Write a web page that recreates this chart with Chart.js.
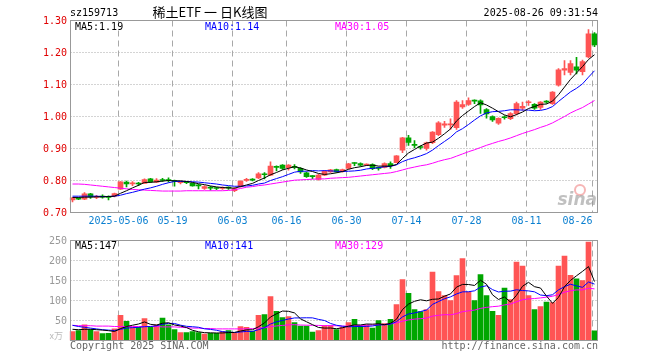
<!DOCTYPE html>
<html>
<head>
<meta charset="utf-8">
<script src="https://cdn.jsdelivr.net/npm/chart.js@4.4.0/dist/chart.umd.min.js"></script>
<style>
    html, body { margin: 0; padding: 0; background: #fff; }
    #wrap { position: relative; width: 660px; height: 360px; overflow: hidden; }
    canvas { position: absolute; left: 0; }
    #kline  { top: 0; }
    #volume { top: 230px; }
</style>
</head>
<body>
<div id="wrap">
    <canvas id="kline" width="660" height="230"></canvas>
    <canvas id="volume" width="660" height="130"></canvas>
</div>
<script>
// --- Data ---

const dates = [
    "04-21","04-22","04-23","04-24","04-25","04-28","04-29","04-30",
    "05-06","05-07","05-08","05-09","05-12","05-13","05-14","05-15","05-16",
    "05-19","05-20","05-21","05-22","05-23","05-26","05-27","05-28","05-29","05-30",
    "06-03","06-04","06-05","06-06","06-09","06-10","06-11","06-12","06-13","06-16",
    "06-17","06-18","06-19","06-20","06-23","06-24","06-25","06-26","06-27","06-30",
    "07-01","07-02","07-03","07-04","07-07","07-08","07-09","07-10","07-11","07-14",
    "07-15","07-16","07-17","07-18","07-21","07-22","07-23","07-24","07-25","07-28",
    "07-29","07-30","07-31","08-01","08-04","08-05","08-06","08-07","08-08","08-11",
    "08-12","08-13","08-14","08-15","08-18","08-19","08-20","08-21","08-22","08-25","08-26"
];

const open = [
    0.739,0.745,0.742,0.758,0.747,0.750,0.749,0.751,
    0.773,0.795,0.789,0.792,0.791,0.805,0.795,0.802,0.802,
    0.800,0.793,0.795,0.791,0.785,0.775,0.778,0.776,0.775,0.778,
    0.768,0.781,0.800,0.803,0.808,0.820,0.817,0.843,0.848,0.840,
    0.843,0.838,0.824,0.813,0.803,0.817,0.827,0.834,0.828,0.838,
    0.855,0.853,0.848,0.850,0.840,0.841,0.853,0.856,0.895,0.933,
    0.912,0.905,0.900,0.918,0.943,0.973,0.974,0.965,1.030,1.038,
    1.050,1.049,1.022,1.000,0.979,0.998,0.993,1.009,1.026,1.043,
    1.038,1.028,1.047,1.040,1.098,1.145,1.138,1.155,1.140,1.186,1.258
];

const high = [
    0.747,0.747,0.762,0.760,0.754,0.755,0.752,0.761,
    0.797,0.798,0.797,0.794,0.805,0.807,0.806,0.807,0.808,
    0.801,0.798,0.797,0.792,0.788,0.784,0.782,0.779,0.780,0.780,
    0.778,0.799,0.807,0.806,0.825,0.825,0.858,0.846,0.850,0.850,
    0.850,0.840,0.826,0.815,0.819,0.831,0.835,0.836,0.836,0.854,
    0.856,0.855,0.852,0.852,0.842,0.855,0.858,0.878,0.935,0.941,
    0.925,0.908,0.920,0.953,0.984,0.985,0.993,1.050,1.050,1.058,
    1.052,1.052,1.025,1.002,0.996,1.002,1.012,1.045,1.045,1.050,
    1.040,1.047,1.050,1.078,1.150,1.175,1.175,1.185,1.176,1.272,1.262
];

const low = [
    0.733,0.740,0.740,0.744,0.743,0.745,0.739,0.749,
    0.772,0.780,0.784,0.784,0.790,0.794,0.793,0.797,0.795,
    0.782,0.789,0.790,0.782,0.774,0.772,0.770,0.771,0.772,0.772,
    0.765,0.779,0.797,0.799,0.806,0.805,0.815,0.830,0.835,0.832,
    0.836,0.822,0.810,0.806,0.801,0.815,0.825,0.825,0.826,0.836,
    0.846,0.845,0.846,0.834,0.832,0.839,0.838,0.855,0.887,0.910,
    0.902,0.898,0.895,0.915,0.940,0.966,0.960,0.960,1.025,1.035,
    1.040,1.010,0.995,0.985,0.975,0.992,0.990,1.005,1.020,1.035,
    1.022,1.022,1.041,1.038,1.095,1.130,1.130,1.133,1.130,1.183,1.218
];

const close = [
    0.746,0.742,0.758,0.749,0.750,0.748,0.747,0.759,
    0.796,0.789,0.793,0.789,0.803,0.796,0.801,0.800,0.800,
    0.797,0.795,0.793,0.783,0.783,0.781,0.776,0.775,0.777,0.776,
    0.775,0.798,0.804,0.801,0.821,0.818,0.845,0.841,0.838,0.848,
    0.841,0.827,0.812,0.812,0.817,0.829,0.833,0.827,0.834,0.852,
    0.853,0.848,0.850,0.837,0.838,0.853,0.846,0.877,0.933,0.919,
    0.910,0.903,0.918,0.951,0.980,0.977,0.977,1.045,1.037,1.050,
    1.048,1.036,1.008,0.989,0.994,0.996,1.009,1.040,1.032,1.046,
    1.026,1.045,1.045,1.076,1.146,1.150,1.165,1.145,1.172,1.258,1.224
];

const ma5 = [
    0.747,0.747,0.748,0.748,0.749,0.749,0.750,0.751,
    0.760,0.768,0.777,0.785,0.794,0.794,0.796,0.798,0.800,
    0.799,0.799,0.797,0.794,0.790,0.787,0.783,0.780,0.778,0.777,
    0.776,0.781,0.786,0.791,0.800,0.808,0.818,0.825,0.833,0.838,
    0.843,0.839,0.833,0.828,0.822,0.819,0.821,0.824,0.828,0.835,
    0.840,0.843,0.847,0.848,0.845,0.845,0.845,0.850,0.869,0.886,
    0.897,0.908,0.917,0.920,0.932,0.946,0.961,0.986,1.003,1.017,
    1.031,1.043,1.036,1.026,1.015,1.005,0.999,1.006,1.014,1.025,
    1.031,1.038,1.039,1.048,1.068,1.092,1.116,1.136,1.156,1.178,1.193
];

const ma10 = [
    0.751,0.751,0.751,0.751,0.751,0.750,0.750,0.751,
    0.754,0.759,0.763,0.768,0.773,0.777,0.782,0.788,0.793,
    0.797,0.797,0.797,0.796,0.795,0.793,0.791,0.789,0.786,0.784,
    0.782,0.782,0.783,0.785,0.789,0.792,0.800,0.806,0.812,0.819,
    0.826,0.829,0.829,0.831,0.830,0.831,0.830,0.829,0.828,0.829,
    0.830,0.832,0.836,0.838,0.840,0.843,0.844,0.849,0.859,0.866,
    0.871,0.877,0.884,0.895,0.909,0.922,0.935,0.952,0.962,0.975,
    0.989,1.002,1.011,1.015,1.016,1.018,1.021,1.021,1.020,1.020,
    1.018,1.019,1.023,1.031,1.047,1.062,1.077,1.088,1.102,1.123,1.143
];

const ma30 = [
    0.789,0.789,0.788,0.786,0.784,0.782,0.780,0.778,
    0.776,0.774,0.772,0.771,0.770,0.769,0.768,0.767,0.767,
    0.767,0.767,0.768,0.768,0.768,0.768,0.768,0.768,0.768,0.769,
    0.771,0.775,0.779,0.781,0.784,0.786,0.789,0.792,0.795,0.798,
    0.801,0.802,0.803,0.804,0.805,0.805,0.807,0.808,0.809,0.810,
    0.812,0.814,0.816,0.818,0.820,0.822,0.824,0.828,0.833,0.838,
    0.842,0.846,0.849,0.854,0.860,0.865,0.869,0.876,0.883,0.890,
    0.896,0.903,0.910,0.916,0.922,0.927,0.933,0.940,0.947,0.953,
    0.959,0.966,0.972,0.980,0.990,1.000,1.011,1.020,1.028,1.039,1.050
];

const volume = [
    22,25,39,27,22,17,18,29,
    63,48,33,33,55,33,39,56,39,
    27,20,20,22,20,16,18,18,22,25,
    18,35,33,23,63,65,110,73,57,60,
    45,36,36,21,25,37,37,27,33,45,
    53,36,39,31,50,42,53,90,152,118,
    77,72,77,171,122,112,100,162,205,121,
    100,165,112,73,63,131,102,196,186,112,
    77,85,96,95,186,211,163,154,150,246,24
];

const volMa5 = [
    28,27,28,28,27,26,24.6,22.6,
    29.8,35,38.2,41.2,46.4,40.4,38.6,43.2,44.4,
    38.8,36.2,32.4,25.6,21.8,19.6,19.2,18.8,18.8,19.8,
    20.2,23.6,26.6,26.8,34.4,43.8,58.8,66.8,73.6,73,
    69,54.2,46.8,39.6,32.6,31,31.2,29.4,31.8,35.8,
    39,38.8,41.2,40.8,41.8,39.6,43,53.2,77.4,91,
    98,101.8,99.2,103,103.8,110.8,116.4,133.4,140.2,140,
    137.6,150.6,140.6,114.2,102.6,108.8,96.2,113,135.6,145.4,
    134.6,131.2,111.2,93,107.8,134.6,150.2,161.8,172.8,184.8,147.4
];

const volMa10 = [
    38,35,33,31,29,27,26,25,
    28,31,32.1,32.9,34.5,35.1,36.8,40.7,42.8,
    42.6,38.3,35.5,34.4,33.1,29.2,27.7,25.6,22.2,20.8,
    19.9,21.4,22.7,22.8,27.1,32,41.2,46.7,50.2,53.7,
    56.4,56.5,56.8,56.6,52.8,50,42.7,38.1,35.7,34.2,
    35,35,35.3,36.3,38.8,39.3,40.9,47.2,59.1,66.4,
    68.8,72.4,76.2,90.2,97.4,104.4,109.1,116.3,121.6,121.9,
    124.2,133.5,137,127.2,121.3,123.2,123.4,126.8,124.9,124,
    121.7,113.7,112.1,114.3,126.6,134.6,140.7,136.5,132.9,146.3,141
];

const volMa30 = [
    38,37,37,37,36,36,36,35,
    35,35,35,35,35,35,35,34,34,
    34,33,32,31,31,30,30,29,29,29,
    29,29,29,29.8,31,31.9,34.7,36.4,37.7,39.1,
    39.6,38.7,38.3,37.9,37.7,37.1,37.2,36.8,36,36.2,
    37.1,37.6,38.3,38.6,39.6,40.4,41.6,44,48.3,51.4,
    53.4,54.6,56.1,61,63,64.6,64.2,67.2,72.1,74.2,
    76,80.3,82.8,84.6,85.8,89,91.1,96.8,101.9,104.1,
    104.9,106.5,108.4,110.6,115.1,120.7,124.4,126.5,126.5,130.7,129
];

// Axis ticks
const dateTicks    = ["05-06","05-19","06-03","06-16","06-30","07-14","07-28","08-11","08-26"];
const dateTickText = ["2025-05-06","05-19","06-03","06-16","06-30","07-14","07-28","08-11","08-26"];
const priceTicks   = [1.30, 1.20, 1.10, 1.00, 0.90, 0.80, 0.70];
const volTicks     = [250, 200, 150, 100, 50];

// --- Style ---

const UP    = "#ff5454";
const DOWN  = "#00a600";
const MONO  = "10px 'DejaVu Sans Mono', 'Liberation Mono', monospace";
const candleColor = close.map((c, i) => c >= open[i] ? UP : DOWN);

// --- Shared drawing helpers ---

function gridX(chart, d) {
    return Math.floor(chart.scales.x.getPixelForValue(dates.indexOf(d))) - 2 + 0.5;
}

function drawGrid(chart, yTicks) {
    const { ctx, chartArea: a, scales } = chart;
    ctx.save();
    ctx.lineWidth   = 1;
    ctx.strokeStyle = "#a8a8a8";
    ctx.setLineDash([1, 2]);
    yTicks.forEach(v => {
        const y = Math.floor(scales.y.getPixelForValue(v)) + 0.5;
        if (y <= a.top + 1 || y >= a.bottom - 1) return;
        ctx.beginPath();
        ctx.moveTo(a.left + 1, y);
        ctx.lineTo(a.right, y);
        ctx.stroke();
    });
    ctx.setLineDash([6, 4]);
    dateTicks.forEach(d => {
        const x = gridX(chart, d);
        ctx.beginPath();
        ctx.moveTo(x, a.top);
        ctx.lineTo(x, a.bottom);
        ctx.stroke();
    });
    ctx.restore();
}

function drawFrame(chart) {
    const { ctx, chartArea: a } = chart;
    ctx.save();
    ctx.strokeStyle = "#999";
    ctx.lineWidth   = 1;
    ctx.strokeRect(a.left + 1, a.top, a.right - a.left - 1, a.bottom - a.top);
    ctx.restore();
}

function text(ctx, str, x, y, color, align, font) {
    ctx.font         = font || MONO;
    ctx.fillStyle    = color;
    ctx.textAlign    = align || "left";
    ctx.textBaseline = "middle";
    ctx.fillText(str, x, y);
}

function lineSet(data, color) {
    return { type: "line", data, borderColor: color, borderWidth: 1, pointRadius: 0, tension: 0, order: 0 };
}

// --- K-line chart ---

const klinePlugin = {
    id: "klineDecor",
    beforeDatasetsDraw(chart) {
        drawGrid(chart, priceTicks);
        const ctx = chart.ctx;
        ctx.save();
        // sina watermark
        ctx.strokeStyle = "rgba(235,90,90,0.45)";
        ctx.lineWidth = 2;
        ctx.beginPath();
        ctx.arc(580, 190, 5, 0, Math.PI * 2);
        ctx.stroke();
        text(ctx, "sina", 597, 201, "rgba(150,150,150,0.6)", "right", "italic bold 17px 'DejaVu Sans'");
        ctx.restore();
    },
    afterDraw(chart) {
        const { ctx, scales } = chart;
        drawFrame(chart);
        ctx.save();
        priceTicks.forEach(v => {
            text(ctx, v.toFixed(2), 67, scales.y.getPixelForValue(v) + 0.5, "#e00000", "right");
        });
        dateTicks.forEach((d, k) => {
            const last = k === dateTicks.length - 1;
            text(ctx, dateTickText[k], gridX(chart, d), 221, "#0a7fd0", last ? "right" : "center");
        });
        text(ctx, "sz159713", 70, 13, "#000");
        text(ctx, "稀土ETF 一 日K线图", 210, 12, "#000", "center", "13px 'Noto Sans CJK SC'");
        text(ctx, "2025-08-26 09:31:54", 598, 13, "#000", "right");
        text(ctx, "MA5:"  + ma5[ma5.length - 1].toFixed(2),   75,  27, "#000");
        text(ctx, "MA10:" + ma10[ma10.length - 1].toFixed(2), 205, 27, "#0000ff");
        text(ctx, "MA30:" + ma30[ma30.length - 1].toFixed(2), 335, 27, "#ff00ff");
        ctx.restore();
    }
};

new Chart(document.getElementById("kline"), {
    type: "bar",
    data: {
        labels: dates,
        datasets: [
            lineSet(ma5, "#000"),
            lineSet(ma10, "#0000ff"),
            lineSet(ma30, "#ff00ff"),
            {
                type: "bar", data: open.map((o, i) => [o, close[i]]),
                backgroundColor: candleColor, barThickness: 5, grouped: false, minBarLength: 1, order: 1
            },
            {
                type: "bar", data: low.map((l, i) => [l, high[i]]),
                backgroundColor: candleColor, barThickness: 1, grouped: false, order: 2
            }
        ]
    },
    options: {
        responsive: false,
        animation: false,
        devicePixelRatio: 1,
        layout: { padding: { left: 69.5, right: 62.5, top: 20.5, bottom: 17.5 } },
        plugins: { legend: { display: false }, tooltip: { enabled: false } },
        scales: {
            x: { display: false, offset: true },
            y: { display: false, min: 0.70, max: 1.30 }
        }
    },
    plugins: [klinePlugin]
});

// --- Volume chart ---

const volumePlugin = {
    id: "volumeDecor",
    beforeDatasetsDraw(chart) {
        drawGrid(chart, volTicks);
    },
    afterDraw(chart) {
        const { ctx, scales } = chart;
        drawFrame(chart);
        ctx.save();
        volTicks.forEach(v => {
            text(ctx, String(v), 67, scales.y.getPixelForValue(v) + 0.5, "#999", "right");
        });
        text(ctx, "x万", 63, 106, "#bbb", "right", "9px 'Noto Sans CJK SC'");
        text(ctx, "MA5:"  + Math.round(volMa5[volMa5.length - 1]),   75,  16, "#000");
        text(ctx, "MA10:" + Math.round(volMa10[volMa10.length - 1]), 205, 16, "#0000ff");
        text(ctx, "MA30:" + Math.round(volMa30[volMa30.length - 1]), 335, 16, "#ff00ff");
        text(ctx, "Copyright 2025 SINA.COM", 70, 116, "#666");
        text(ctx, "http://finance.sina.com.cn", 598, 116, "#666", "right");
        ctx.restore();
    }
};

new Chart(document.getElementById("volume"), {
    type: "bar",
    data: {
        labels: dates,
        datasets: [
            lineSet(volMa5, "#000"),
            lineSet(volMa10, "#0000ff"),
            lineSet(volMa30, "#ff00ff"),
            { type: "bar", data: volume, backgroundColor: candleColor, barThickness: 5, grouped: false, order: 1 }
        ]
    },
    options: {
        responsive: false,
        animation: false,
        devicePixelRatio: 1,
        layout: { padding: { left: 69.5, right: 62.5, top: 10.5, bottom: 19.5 } },
        plugins: { legend: { display: false }, tooltip: { enabled: false } },
        scales: {
            x: { display: false, offset: true },
            y: { display: false, min: 0, max: 250 }
        }
    },
    plugins: [volumePlugin]
});
</script>
</body>
</html>
